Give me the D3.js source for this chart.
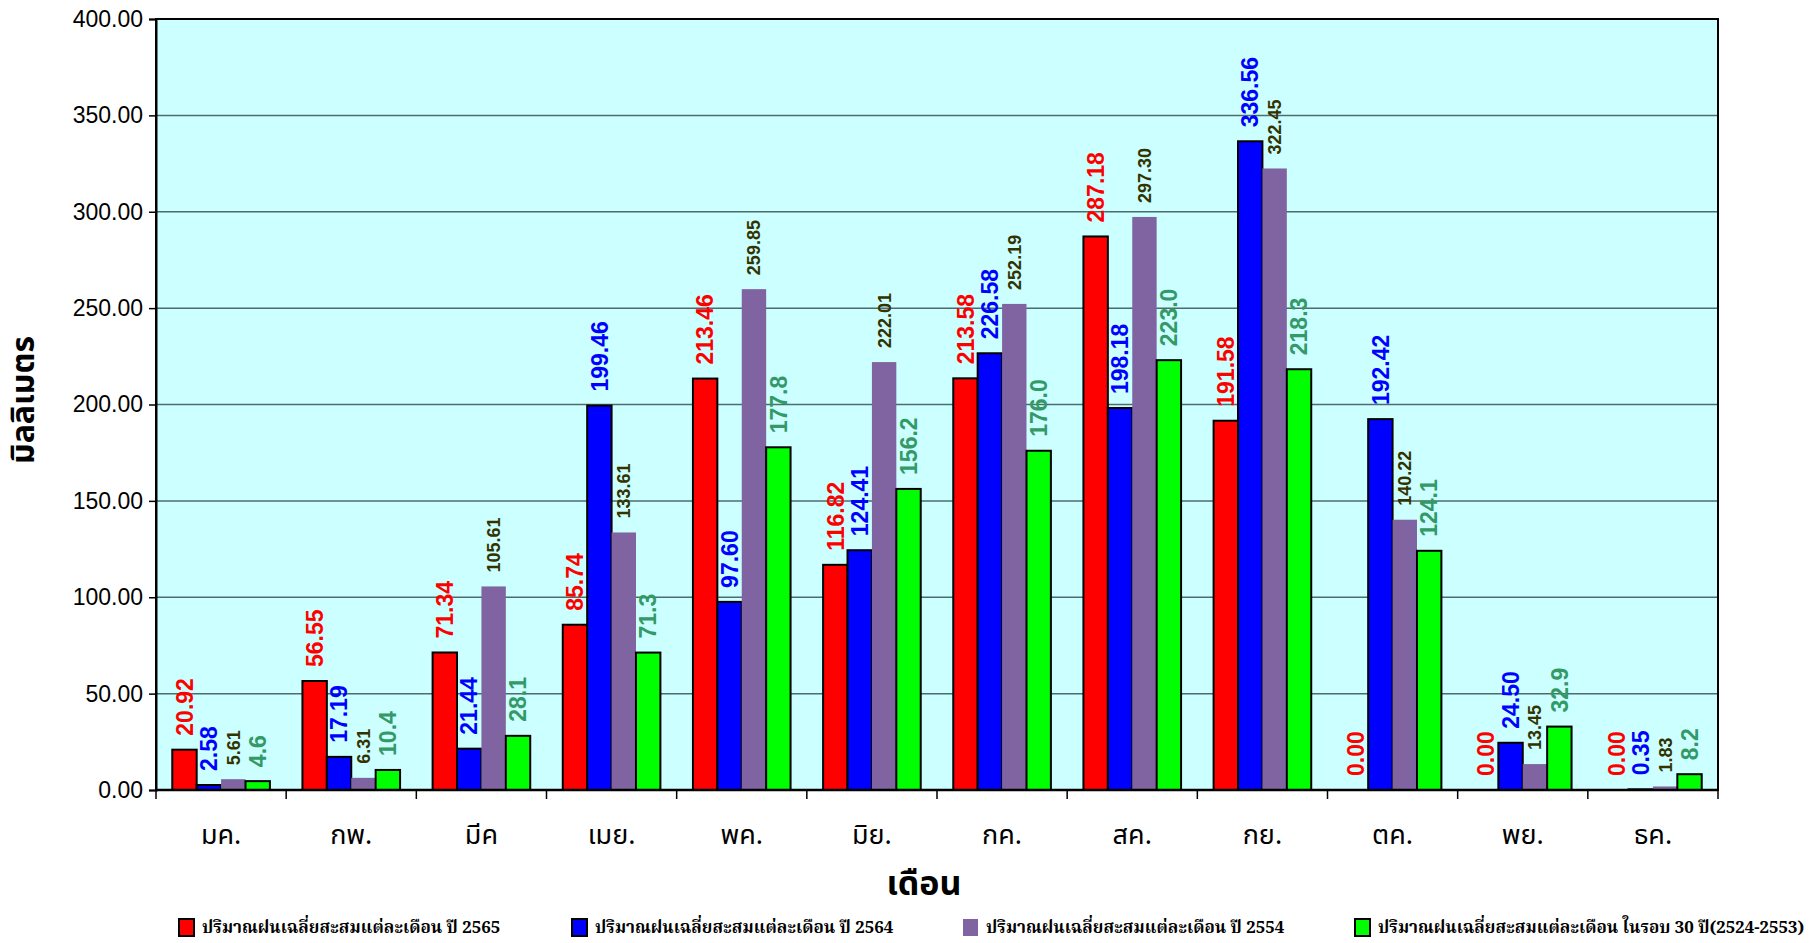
<!DOCTYPE html>
<html lang="th">
<head>
    <meta charset="UTF-8">
    <title>ปริมาณฝนเฉลี่ยสะสมแต่ละเดือน</title>
    <script src="https://d3js.org/d3.v7.min.js"></script>
    <style>
        body { margin: 0; background: #fff; }
        .tick-label { font-family: "Liberation Sans", Arial, sans-serif; font-size: 23px; fill: #000; }
        .month { font-family: "Noto Sans Thai", "Noto Sans", "Loma", "Garuda", sans-serif; font-size: 27px; fill: #000; }
        .title { font-family: "Noto Sans Thai", "Noto Sans", "Loma", "Garuda", sans-serif; font-weight: bold; fill: #000; }
        .legend { font-family: "Noto Serif Thai", "Noto Sans Thai", "Liberation Serif", serif; font-size: 17px; font-weight: bold; fill: #000; }
        .value { font-family: "Liberation Sans", Arial, sans-serif; font-weight: bold; }
    </style>
</head>
<body>
    <script>
        // Months (x categories)
        const months = ["มค.", "กพ.", "มีค", "เมย.", "พค.", "มิย.", "กค.", "สค.", "กย.", "ตค.", "พย.", "ธค."];

        // Series names, shown in the legend
        const seriesNames = [
            "ปริมาณฝนเฉลี่ยสะสมแต่ละเดือน ปี 2565",
            "ปริมาณฝนเฉลี่ยสะสมแต่ละเดือน ปี 2564",
            "ปริมาณฝนเฉลี่ยสะสมแต่ละเดือน ปี 2554",
            "ปริมาณฝนเฉลี่ยสะสมแต่ละเดือน ในรอบ 30 ปี(2524-2553)"
        ];

        // Series values (mm)
        const rain2565 = [20.92, 56.55, 71.34, 85.74, 213.46, 116.82, 213.58, 287.18, 191.58, 0.00, 0.00, 0.00];
        const rain2564 = [2.58, 17.19, 21.44, 199.46, 97.60, 124.41, 226.58, 198.18, 336.56, 192.42, 24.50, 0.35];
        const rain2554 = [5.61, 6.31, 105.61, 133.61, 259.85, 222.01, 252.19, 297.30, 322.45, 140.22, 13.45, 1.83];
        const rain30yr = [4.6, 10.4, 28.1, 71.3, 177.8, 156.2, 176.0, 223.0, 218.3, 124.1, 32.9, 8.2];

        // Y axis ticks
        const yTicks = [0, 50, 100, 150, 200, 250, 300, 350, 400];

        const width = 1809, height = 943;
        const margin = { left: 156, right: 91, top: 19, bottom: 153 };
        const plotW = width - margin.left - margin.right;
        const plotH = height - margin.top - margin.bottom;

        // styling per series
        const fills = ["#ff0000", "#0000ff", "#8064a2", "#00ff00"];
        const strokes = ["#000", "#000", "none", "#000"];
        const labelColors = ["#ff0000", "#0000ff", "#333300", "#339966"];
        const labelSizes = [23, 23, 18, 23];
        const labelFormats = [d3.format(".2f"), d3.format(".2f"), d3.format(".2f"), d3.format(".1f")];

        const seriesValues = [rain2565, rain2564, rain2554, rain30yr];

        const svg = d3.select("body").append("svg")
            .attr("width", width)
            .attr("height", height);

        const g = svg.append("g")
            .attr("transform", `translate(${margin.left},${margin.top})`);

        const x0 = d3.scaleBand().domain(months).range([0, plotW]).padding(0);
        const x1 = d3.scaleBand().domain(d3.range(4))
            .range([x0.bandwidth() * 0.125, x0.bandwidth() * 0.875]).padding(0);
        const y = d3.scaleLinear().domain([0, 400]).range([plotH, 0]);

        // plot background
        g.append("rect")
            .attr("width", plotW)
            .attr("height", plotH)
            .attr("fill", "#ccffff");

        // gridlines
        g.append("g").selectAll("line")
            .data(yTicks.filter(t => t > 0 && t < 400))
            .join("line")
            .attr("x1", 0).attr("x2", plotW)
            .attr("y1", d => y(d)).attr("y2", d => y(d))
            .attr("stroke", "#4f6b6b")
            .attr("stroke-width", 1.5);

        // bars
        const rows = months.map((m, i) => seriesValues.map((s, k) => ({ month: m, k: k, v: s[i] })));

        const groups = g.append("g").selectAll("g")
            .data(rows)
            .join("g")
            .attr("transform", (d, i) => `translate(${x0(months[i])},0)`);

        groups.selectAll("rect")
            .data(d => d)
            .join("rect")
            .attr("x", d => x1(d.k))
            .attr("y", d => y(d.v))
            .attr("width", x1.bandwidth())
            .attr("height", d => plotH - y(d.v))
            .attr("fill", d => fills[d.k])
            .attr("stroke", d => strokes[d.k])
            .attr("stroke-width", 2);

        // value labels, rotated
        groups.selectAll("text")
            .data(d => d)
            .join("text")
            .attr("class", "value")
            .attr("transform", d => `translate(${x1(d.k) + x1.bandwidth() / 2},${y(d.v) - 14}) rotate(-90)`)
            .attr("dy", "0.36em")
            .attr("text-anchor", "start")
            .attr("fill", d => labelColors[d.k])
            .style("font-size", d => labelSizes[d.k] + "px")
            .text(d => labelFormats[d.k](d.v));

        // plot border
        g.append("rect")
            .attr("width", plotW)
            .attr("height", plotH)
            .attr("fill", "none")
            .attr("stroke", "#000")
            .attr("stroke-width", 2);

        // y axis
        const yAxis = g.append("g")
            .call(d3.axisLeft(y).tickValues(yTicks).tickFormat(d3.format(".2f")).tickSize(7).tickPadding(6));
        yAxis.select(".domain").attr("stroke", "#000").attr("stroke-width", 2);
        yAxis.selectAll(".tick line").attr("stroke", "#000").attr("stroke-width", 1.5);
        yAxis.selectAll(".tick text").attr("class", "tick-label").attr("font-family", null).attr("font-size", null);

        // x axis: ticks at band edges
        const xAxis = g.append("g").attr("transform", `translate(0,${plotH})`);
        xAxis.append("line")
            .attr("x1", 0).attr("x2", plotW)
            .attr("stroke", "#000").attr("stroke-width", 2.5);
        xAxis.selectAll("line.tk")
            .data(months.concat(["end"]))
            .join("line")
            .attr("class", "tk")
            .attr("x1", (d, i) => i * x0.step()).attr("x2", (d, i) => i * x0.step())
            .attr("y1", 0).attr("y2", 9)
            .attr("stroke", "#000").attr("stroke-width", 1.5);
        xAxis.selectAll("text")
            .data(months)
            .join("text")
            .attr("class", "month")
            .attr("x", d => x0(d) + x0.bandwidth() / 2)
            .attr("y", 54)
            .attr("text-anchor", "middle")
            .text(d => d);

        // axis titles
        svg.append("text")
            .attr("class", "title")
            .attr("x", 924)
            .attr("y", 895)
            .attr("text-anchor", "middle")
            .style("font-size", "34px")
            .text("เดือน");

        svg.append("text")
            .attr("class", "title")
            .attr("transform", "translate(34,400) rotate(-90)")
            .attr("text-anchor", "middle")
            .style("font-size", "32px")
            .text("มิลลิเมตร");

        // legend
        const legendX = [179, 572, 963, 1355];
        const legend = svg.append("g").selectAll("g")
            .data(seriesNames)
            .join("g")
            .attr("transform", (d, i) => `translate(${legendX[i]},927)`);

        legend.append("rect")
            .attr("width", 15)
            .attr("height", 17)
            .attr("y", -8)
            .attr("fill", (d, i) => fills[i])
            .attr("stroke", (d, i) => i === 2 ? "none" : "#000")
            .attr("stroke-width", 2);

        legend.append("text")
            .attr("class", "legend")
            .attr("x", 23)
            .attr("y", 6)
            .text(d => d);
    </script>
</body>
</html>
